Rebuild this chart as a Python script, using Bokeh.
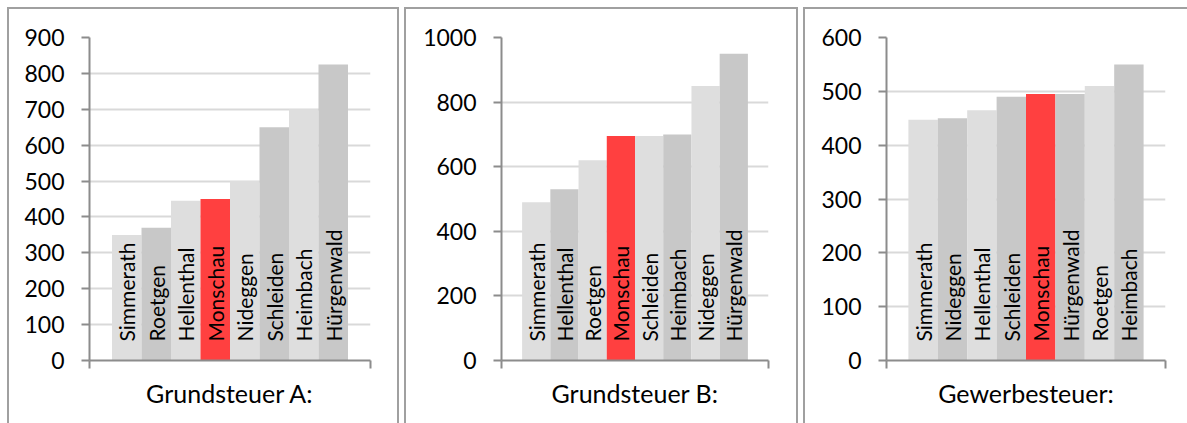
import math
from bokeh.plotting import figure
from bokeh.models import (ColumnDataSource, Range1d, FixedTicker, Row)
from bokeh.core.properties import value
from bokeh.embed import file_html
from bokeh.resources import INLINE

# ---------------- data ----------------
titles = ["Grundsteuer A:", "Grundsteuer B:", "Gewerbesteuer:"]

names_a = ["Simmerath", "Roetgen", "Hellenthal", "Monschau", "Nideggen",
           "Schleiden", "Heimbach", "Hürgenwald"]
values_a = [350, 370, 445, 450, 500, 650, 700, 825]
ticks_a = [0, 100, 200, 300, 400, 500, 600, 700, 800, 900]

names_b = ["Simmerath", "Hellenthal", "Roetgen", "Monschau", "Schleiden",
           "Heimbach", "Nideggen", "Hürgenwald"]
values_b = [490, 530, 620, 695, 695, 700, 850, 950]
ticks_b = [0, 200, 400, 600, 800, 1000]

names_g = ["Simmerath", "Nideggen", "Hellenthal", "Schleiden", "Monschau",
           "Hürgenwald", "Roetgen", "Heimbach"]
values_g = [447, 450, 465, 490, 495, 495, 510, 550]
ticks_g = [0, 100, 200, 300, 400, 500, 600]

# ---------------- style ----------------
LIGHT = "#dedede"
DARK = "#c8c8c8"
RED = "#ff4040"
colors_a = [LIGHT, DARK, LIGHT, RED, LIGHT, DARK, LIGHT, DARK]
colors_b = [LIGHT, DARK, LIGHT, RED, LIGHT, DARK, LIGHT, DARK]
colors_g = [LIGHT, DARK, LIGHT, DARK, RED, DARK, LIGHT, DARK]

FONT = "Lato"
AXIS_COLOR = "#8c8c8c"
GRID_COLOR = "#d9d9d9"
BORDER = "#a0a0a0"


def make_panel(title, names, vals, cols, ticks, width, left, right, pad,
               shadow):
    pos = list(range(len(names)))
    src = ColumnDataSource(dict(pos=pos, name=names, value=vals, color=cols))
    x0 = pos[0] - 0.5 - pad
    x1 = pos[-1] + 0.5 + pad
    p = figure(x_range=Range1d(x0, x1),
               y_range=Range1d(ticks[0], ticks[-1]),
               width=width, height=416, output_backend="svg",
               toolbar_location=None,
               min_border_left=left, min_border_right=right,
               min_border_top=30, min_border_bottom=63)
    p.background_fill_color = None
    p.border_fill_color = None
    p.outline_line_color = None
    p.styles = {"box-shadow": shadow}

    p.vbar(x="pos", top="value", bottom=0, width=1.0, fill_color="color",
           line_color=None, source=src)
    p.text(x="pos", y=0, text="name", angle=math.pi / 2, text_align="left",
           text_baseline="middle", y_offset=-19,
           text_font=value(FONT), text_font_size="21px", text_color="#000000",
           source=src)

    p.xgrid.visible = False
    ax = p.xaxis[0]
    ax.ticker = FixedTicker(ticks=[x0, x1])
    ax.major_label_overrides = {x0: "", x1: ""}
    ax.major_label_text_font_size = "2px"
    ax.major_label_standoff = 0
    ax.major_tick_out = 8
    ax.major_tick_in = 0
    ax.minor_tick_out = 0
    ax.minor_tick_in = 0
    ax.major_tick_line_color = AXIS_COLOR
    ax.major_tick_line_width = 2
    ax.axis_line_color = AXIS_COLOR
    ax.axis_line_width = 2
    ax.axis_label = title
    ax.axis_label_text_font = FONT
    ax.axis_label_text_font_size = "25px"
    ax.axis_label_text_font_style = "normal"
    ax.axis_label_text_color = "#000000"
    ax.axis_label_standoff = 9

    ya = p.yaxis[0]
    ya.ticker = FixedTicker(ticks=ticks)
    ya.minor_tick_out = 0
    ya.minor_tick_in = 0
    ya.major_tick_out = 8
    ya.major_tick_in = 0
    ya.major_tick_line_color = AXIS_COLOR
    ya.major_tick_line_width = 2
    ya.axis_line_color = AXIS_COLOR
    ya.axis_line_width = 2
    ya.major_label_text_font = FONT
    ya.major_label_text_font_size = "23px"
    ya.major_label_text_color = "#000000"
    ya.major_label_standoff = 17

    p.ygrid.grid_line_color = GRID_COLOR
    p.ygrid.grid_line_width = 2
    p.ygrid.ticker = FixedTicker(ticks=ticks)
    return p


full = (f"inset 2px 0 0 {BORDER}, inset -2px 0 0 {BORDER}, "
        f"inset 0 2px 0 {BORDER}")
open_right = f"inset 2px 0 0 {BORDER}, inset 0 2px 0 {BORDER}"

p1 = make_panel(titles[0], names_a, values_a, colors_a, ticks_a,
                392, 82, 29, 0.763, full)
p2 = make_panel(titles[1], names_b, values_b, colors_b, ticks_b,
                394, 97, 30, 0.73, full)
p3 = make_panel(titles[2], names_g, values_g, colors_g, ticks_g,
                384, 83, 22, 0.745, open_right)

layout = Row(children=[p1, p2, p3], spacing=5, margin=(7, 0, 0, 7))

open("out.html", "w").write(file_html(layout, INLINE))
